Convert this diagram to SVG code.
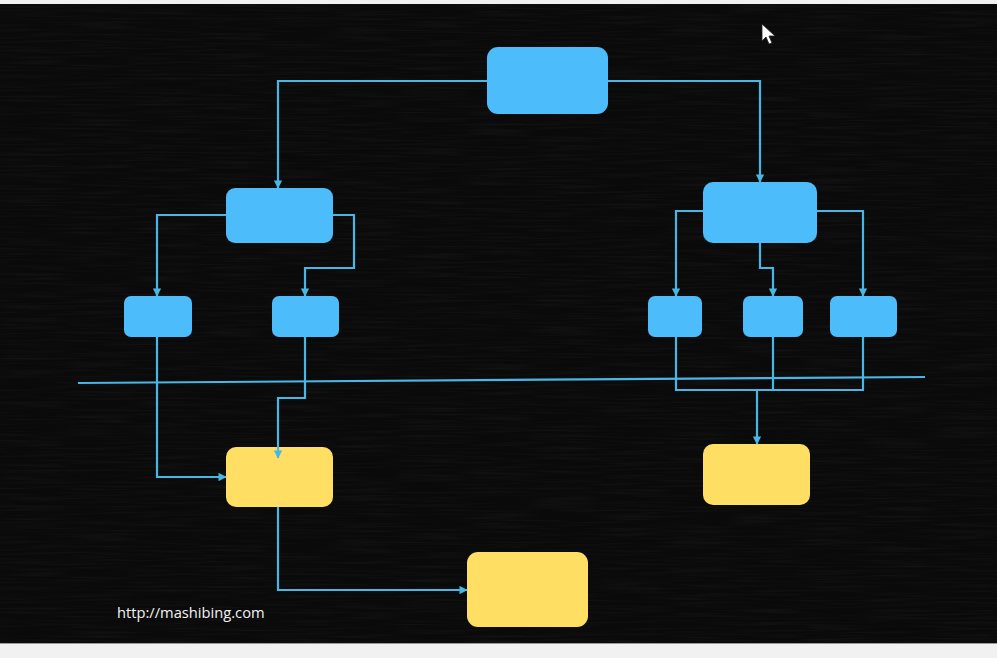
<svg xmlns="http://www.w3.org/2000/svg" width="997" height="658" viewBox="0 0 997 658">
  <defs>
    <style>
      .blue { fill: #4cbcfb; }
      .yellow { fill: #ffdf63; }
      .conn { fill: none; stroke: #4ab6e6; stroke-width: 2.2; stroke-linejoin: miter; }
      .wm { font-family: "Open Sans", "Liberation Sans", sans-serif; font-size: 14.7px; fill: #f2f2f2; }
    </style>
    <marker id="arr" viewBox="0 0 10 10" refX="9" refY="5" markerWidth="3.8" markerHeight="3.8" orient="auto" markerUnits="strokeWidth">
      <path d="M0,0 L10,5 L0,10 Z" fill="#4ab6e6"/>
    </marker>
    <filter id="chalk" x="0" y="0" width="100%" height="100%">
      <feTurbulence type="fractalNoise" baseFrequency="0.015 0.5" numOctaves="2" seed="4" result="n"/>
      <feColorMatrix in="n" type="matrix" values="0 0 0 0 1  0 0 0 0 1  0 0 0 0 1  0 0 0 0.3 -0.12" />
    </filter>
  </defs>

  <!-- frame -->
  <rect x="0" y="0" width="997" height="658" fill="#f1f1f1"/>
  <rect x="0" y="4" width="997" height="639" fill="#0a0a0a"/>
  <rect x="0" y="4" width="997" height="639" filter="url(#chalk)" opacity="0.25"/>
  <line x1="0" y1="643.5" x2="997" y2="643.5" stroke="#9a9a9a" stroke-width="1"/>

  <!-- divider -->
  <line x1="78" y1="383" x2="925" y2="377" stroke="#4ab6e6" stroke-width="2.2"/>

  <g id="root"><rect class="blue" x="487" y="47" width="121" height="67" rx="11"/></g>
  <g id="left-mid"><rect class="blue" x="226" y="188" width="107" height="55" rx="9"/></g>
  <g id="right-mid"><rect class="blue" x="703" y="182" width="114" height="61" rx="10"/></g>
  <g id="left-a"><rect class="blue" x="124" y="296" width="68" height="41" rx="7"/></g>
  <g id="left-b"><rect class="blue" x="272" y="296" width="67" height="41" rx="7"/></g>
  <g id="right-a"><rect class="blue" x="648" y="296" width="54" height="41" rx="7"/></g>
  <g id="right-b"><rect class="blue" x="743" y="296" width="60" height="41" rx="7"/></g>
  <g id="right-c"><rect class="blue" x="830" y="296" width="67" height="41" rx="7"/></g>
  <g id="yellow-left"><rect class="yellow" x="226" y="447" width="107" height="60" rx="10"/></g>
  <g id="yellow-right"><rect class="yellow" x="703" y="444" width="107" height="61" rx="10"/></g>
  <g id="yellow-bottom"><rect class="yellow" x="467" y="552" width="121" height="75" rx="11"/></g>

  <g id="connectors">
    <polyline class="conn" points="487,81 278,81 278,188" marker-end="url(#arr)"/>
    <polyline class="conn" points="608,81 760,81 760,182" marker-end="url(#arr)"/>
    <polyline class="conn" points="226,215 157,215 157,296" marker-end="url(#arr)"/>
    <polyline class="conn" points="333,215 354,215 354,268 305,268 305,296" marker-end="url(#arr)"/>
    <polyline class="conn" points="703,211 676,211 676,296" marker-end="url(#arr)"/>
    <polyline class="conn" points="760,243 760,268 773,268 773,296" marker-end="url(#arr)"/>
    <polyline class="conn" points="817,211 863,211 863,296" marker-end="url(#arr)"/>
    <polyline class="conn" points="157,337 157,477 226,477" marker-end="url(#arr)"/>
    <polyline class="conn" points="305,337 305,398 278,398 278,458" marker-end="url(#arr)"/>
    <polyline class="conn" points="676,337 676,390 863,390 863,337"/>
    <line class="conn" x1="773" y1="337" x2="773" y2="390"/>
    <polyline class="conn" points="757,390 757,444" marker-end="url(#arr)"/>
    <polyline class="conn" points="278,507 278,590 467,590" marker-end="url(#arr)"/>
  </g>

  <!-- mouse cursor -->
  <path d="M762,24 L762,41 L766,37 L769,44 L772,43 L769,36 L775,36 Z" fill="#ffffff" stroke="#222" stroke-width="0.8"/>

  <text class="wm" x="117" y="618">http://mashibing.com</text>
</svg>
